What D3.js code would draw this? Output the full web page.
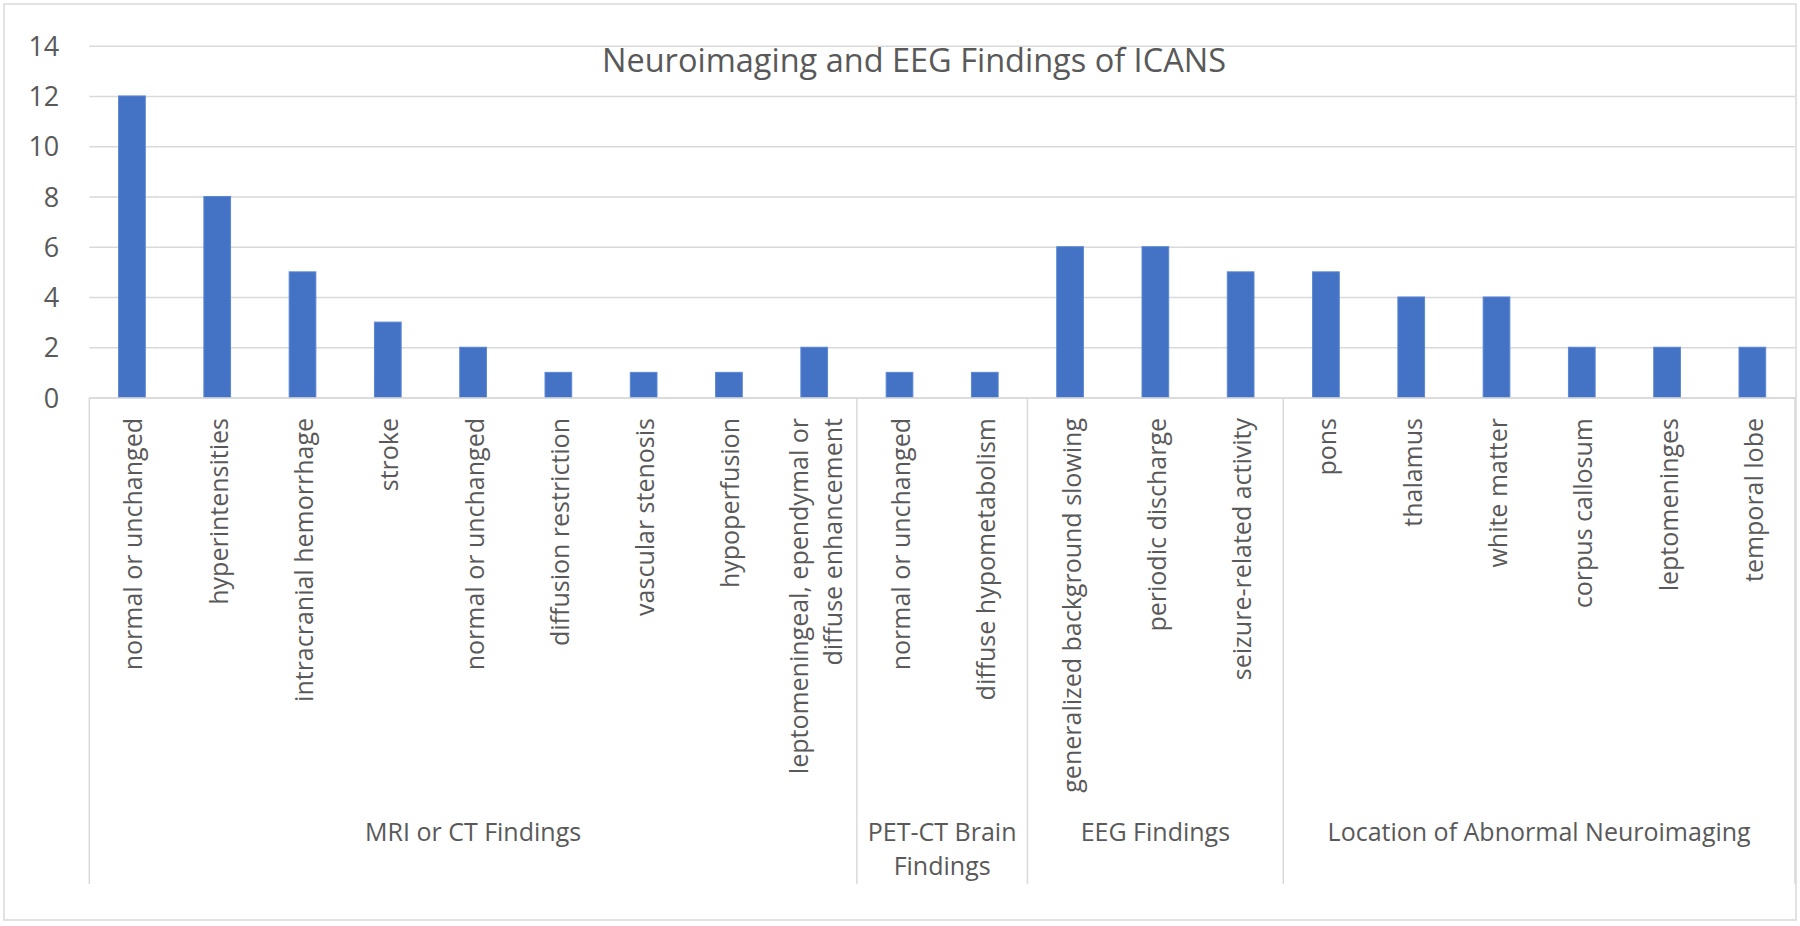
<!DOCTYPE html>
<html>
<head>
<meta charset="utf-8">
<script src="https://cdn.jsdelivr.net/npm/d3@7"></script>
<style>
  html, body { margin: 0; padding: 0; background: #fff; }
  svg { display: block; font-family: "Open Sans", sans-serif; }
</style>
</head>
<body>
<div id="chart"></div>
<script>
// data
const categories = [
  "normal or unchanged", "hyperintensities", "intracranial hemorrhage", "stroke",
  "normal or unchanged", "diffusion restriction", "vascular stenosis", "hypoperfusion",
  "leptomeningeal, ependymal or\ndiffuse enhancement",
  "normal or unchanged", "diffuse hypometabolism",
  "generalized background slowing", "periodic discharge", "seizure-related activity",
  "pons", "thalamus", "white matter", "corpus callosum", "leptomeninges", "temporal lobe"
];
const values = [12, 8, 5, 3, 2, 1, 1, 1, 2, 1, 1, 6, 6, 5, 5, 4, 4, 2, 2, 2];
const groupNames = ["MRI or CT Findings", "PET-CT Brain\nFindings", "EEG Findings", "Location of Abnormal Neuroimaging"];
const groupSizes = [9, 2, 3, 6];
const yTicks = [0, 2, 4, 6, 8, 10, 12, 14];
const title = "Neuroimaging and EEG Findings of ICANS";

const width = 1800, height = 926;
const margin = { top: 45.7, right: 5, bottom: 42, left: 89.3 };
const y0 = 397.5;
const gridColor = "#d9d9d9";
const textColor = "#595959";

const svg = d3.select("#chart")
  .append("svg")
    .attr("width", width)
    .attr("height", height);

// outer chart border
svg.append("rect")
  .attr("x", 4).attr("y", 4)
  .attr("width", 1792).attr("height", 916)
  .attr("fill", "none")
  .attr("stroke", gridColor)
  .attr("stroke-width", 1.5);

const x = d3.scaleBand(d3.range(categories.length), [margin.left, width - margin.right])
  .paddingInner(0).paddingOuter(0);

const y = d3.scaleLinear([0, 14], [y0, margin.top]);

// y axis with gridlines
svg.append("g")
    .attr("class", "yAxis")
    .attr("transform", `translate(${margin.left}, 0)`)
    .call(d3.axisLeft(y)
      .tickValues(yTicks)
      .tickSize(-(width - margin.right - margin.left))
      .tickPadding(30))
    .call(g => g.select(".domain").remove())
    .call(g => g.selectAll(".tick line")
      .attr("stroke", gridColor)
      .attr("stroke-width", 1.5))
    .call(g => g.selectAll(".tick text")
      .attr("fill", textColor)
      .attr("font-size", 27)
      .attr("font-family", "Open Sans")
      .attr("dy", "0.36em"));

// title
svg.append("text")
  .attr("x", 914)
  .attr("y", 71.5)
  .attr("text-anchor", "middle")
  .attr("font-size", 32.5)
  .attr("fill", textColor)
  .text(title);

// bars
const barW = x.bandwidth() * 0.313;
svg.append("g")
    .attr("class", "bars")
  .selectAll("rect")
  .data(values)
  .join("rect")
    .attr("x", (d, i) => x(i) + (x.bandwidth() - barW) / 2)
    .attr("y", d => y(d))
    .attr("width", barW)
    .attr("height", d => y(0) - y(d))
    .attr("fill", "#4472c4")
    .attr("stroke", "#5a86d4")
    .attr("stroke-width", 1);

// x axis baseline
svg.append("g")
    .attr("class", "xAxis")
    .attr("transform", `translate(0, ${y0})`)
    .call(d3.axisBottom(x).tickSize(0).tickSizeOuter(0).tickFormat(""))
    .call(g => g.select(".domain")
      .attr("stroke", gridColor)
      .attr("stroke-width", 1.5));

// category labels, rotated
const lineH = 34;
svg.append("g")
    .attr("class", "catLabels")
  .selectAll("text")
  .data(categories)
  .join("text")
    .attr("transform", (d, i) => `translate(${x(i) + x.bandwidth() / 2}, 418) rotate(-90)`)
    .attr("text-anchor", "end")
    .attr("font-size", 25)
    .attr("fill", textColor)
    .each(function(d) {
      const lines = d.split("\n");
      const off = -(lines.length - 1) * lineH / 2;
      d3.select(this).selectAll("tspan")
        .data(lines)
        .join("tspan")
          .attr("x", 0)
          .attr("y", (l, k) => off + k * lineH)
          .attr("dy", "0.42em")
          .text(l => l);
    });

// group separators and labels
const bounds = [0];
groupSizes.forEach(s => bounds.push(bounds[bounds.length - 1] + s));
const edgeX = k => k >= categories.length ? width - margin.right : x(k);

svg.append("g")
    .attr("class", "groupLines")
  .selectAll("line")
  .data(bounds)
  .join("line")
    .attr("x1", d => edgeX(d))
    .attr("x2", d => edgeX(d))
    .attr("y1", y0)
    .attr("y2", 884)
    .attr("stroke", gridColor)
    .attr("stroke-width", 1.5);

svg.append("g")
    .attr("class", "groupLabels")
  .selectAll("text")
  .data(groupNames)
  .join("text")
    .attr("text-anchor", "middle")
    .attr("font-size", 25)
    .attr("fill", textColor)
    .each(function(d, i) {
      const cx = (edgeX(bounds[i]) + edgeX(bounds[i + 1])) / 2;
      d3.select(this).selectAll("tspan")
        .data(d.split("\n"))
        .join("tspan")
          .attr("x", cx)
          .attr("y", (l, k) => 841 + k * lineH)
          .text(l => l);
    });
</script>
</body>
</html>
